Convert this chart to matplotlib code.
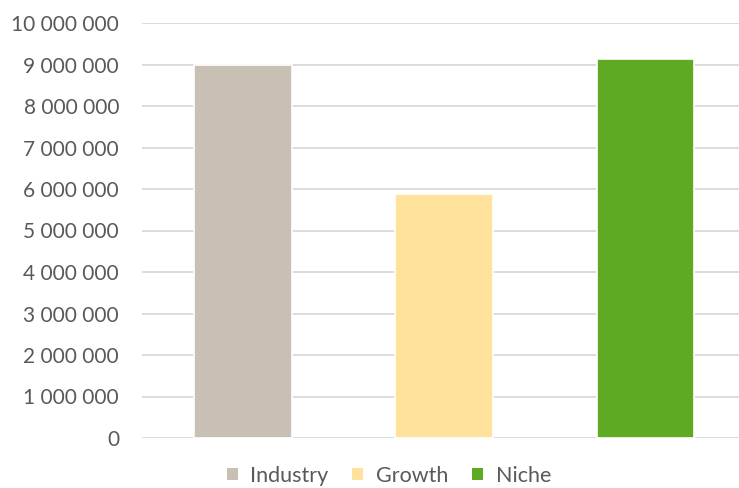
import matplotlib.pyplot as plt
from matplotlib.ticker import FuncFormatter
from matplotlib.patches import Patch

# values
series = ["Industry", "Growth", "Niche"]
values = [8980000, 5870000, 9130000]
colors = ["#c9c0b5", "#ffe29b", "#5eaa23"]
yticks = list(range(0, 10000001, 1000000))

plt.rcParams['font.family'] = ['Lato', 'DejaVu Sans']

fig = plt.figure(figsize=(7.39, 4.88), dpi=100)
ax = fig.add_axes([142 / 739, 50 / 488, 1 - 142 / 739, 415 / 488])

x = list(range(len(series)))
ax.bar(x, values, width=0.485, color=colors, edgecolor="white", linewidth=1.2, zorder=3)

ax.set_xlim(-0.5, 2.465)
ax.set_ylim(0, 10000000)
ax.set_yticks(yticks)
ax.yaxis.set_major_formatter(FuncFormatter(lambda v, p: f"{int(v):,}".replace(",", " ")))
ax.set_xticks([])
ax.tick_params(axis="y", length=0, pad=16.5, labelsize=15, labelcolor="#595959")
ax.grid(axis="y", color="#d9d9d9", linewidth=1.3, zorder=0)
for s in ax.spines.values():
    s.set_visible(False)

handles = [Patch(facecolor=c, edgecolor="none", label=s) for s, c in zip(series, colors)]
fig.legend(handles=handles, loc="center", bbox_to_anchor=(389 / 739, 1 - 476 / 488), ncol=3,
           frameon=False, fontsize=15.5, labelcolor="#595959", handlelength=0.5, handleheight=0.5,
           handletextpad=0.6, columnspacing=1.1, borderpad=0.2)

fig.savefig("out.png", dpi=100)
